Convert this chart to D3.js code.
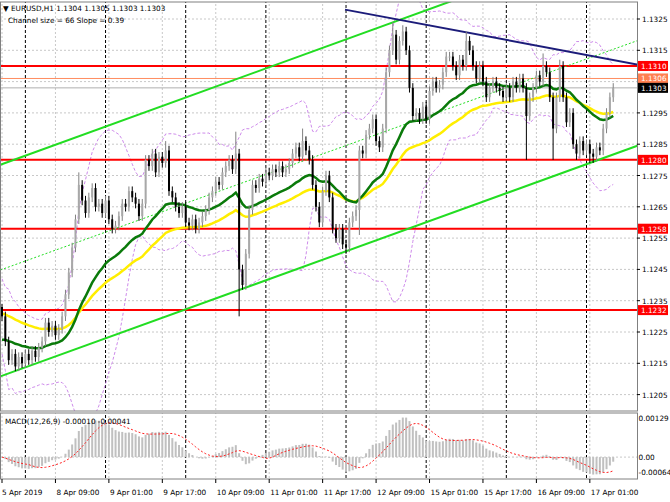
<!DOCTYPE html>
<html><head><meta charset="utf-8">
<script src="https://cdn.jsdelivr.net/npm/d3@7"></script>
<style>body{margin:0;background:#fff}text{font-family:"DejaVu Sans",sans-serif;font-size:7.3px}</style>
</head><body><svg id="chart" width="670" height="502"></svg>
<script>
// ===== DATA =====
// hourly closes, pips above 1.1200, 5 Apr 17:00 .. 17 Apr 07:00
const closes = [30,22,16,18,14,17,15,18,16,19,17,20,22,28,25,27,24,26,30,37,44,52,61,72,67,63,68,71,65,66,
  63,67,61,58,59,62,66,65,70,68,66,62,66,80,78,82,76,81,79,83,70,68,65,63,65,60,59,61,58,60,
  62,64,68,70,73,72,76,78,80,77,82,45,40,50,64,72,71,74,73,76,75,77,76,78,76,77,79,82,84,81,
  86,83,80,72,65,60,70,75,68,58,55,58,53,52,60,62,64,83,82,88,90,93,86,84,90,108,115,120,112,118,
  121,115,103,94,95,93,97,93,102,105,103,104,108,113,113,110,107,112,110,118,115,110,106,110,105,100,103,105,103,102,
  100,103,100,105,103,106,103,94,100,103,107,105,110,108,100,90,100,110,100,92,95,85,82,86,83,85,82,81,84,83,
  90,95,100,103];
const firstOpen = 33;
const highs = [{i:0,v:34},{i:23,v:76},{i:49,v:86},{i:70,v:89},{i:90,v:90},{i:117,v:124},{i:120,v:123},{i:139,v:121},{i:162,v:114},{i:167,v:112}];
const lows = [{i:71,v:30},{i:103,v:50},{i:107,v:56},{i:157,v:80},{i:165,v:80},{i:172,v:80},{i:176,v:79},{i:177,v:79}];
const priceTicks = [1.1325,1.1315,1.1295,1.1285,1.1275,1.1265,1.1255,1.1245,1.1235,1.1225,1.1215,1.1205];
const levels = [1.1310,1.1280,1.1258,1.1232];
const timeLabels = ["5 Apr 2019","8 Apr 09:00","9 Apr 01:00","9 Apr 17:00","10 Apr 09:00","11 Apr 01:00","11 Apr 17:00","12 Apr 09:00","15 Apr 01:00","15 Apr 17:00","16 Apr 09:00","17 Apr 01:00"];
const labelBars = [0,16,32,48,64,80,96,112,128,144,160,176];
const daySeparators = [7,31,55,79,103,127,151,175];
// drawn objects: [bar, pips]
const chanUpper = [[-0.6,78.4],[135.3,131]];
const chanLower = [[0,11],[190,84.4]];
const chanMid = [[0,45],[190,118]];
const navyLine = [[102.7,128],[190,110.5]];
const maStart = {green:22, yellow:31};

// ===== SCALES =====
const svg = d3.select('#chart');
const W = 637, pTop = 2, pBot = 411, mTop = 413, mBot = 479;
const x = d3.scaleLinear().domain([0,1]).range([2,5.34]);
const y = d3.scaleLinear().domain([1.1325,1.1205]).range([19,394.6]);
const p = v => 1.12 + v/10000;
const ym = d3.scaleLinear().domain([0.00129,-0.00064]).range([417,477]);

const bars = closes.map((c,i) => {
  const o = i === 0 ? firstOpen : closes[i-1];
  let h = Math.max(o,c) + 1.5, l = Math.min(o,c) - 1.5;
  highs.filter(d => d.i === i).forEach(d => h = d.v);
  lows.filter(d => d.i === i).forEach(d => l = d.v);
  return {i, o:p(o), c:p(c), h:p(h), l:p(l)};
});

// indicators
function ema(arr, n, seed){ const k = 2/(n+1); let e = seed ?? arr[0]; return arr.map(v => e = v*k + e*(1-k)); }
const cp = bars.map(b => b.c);
const green = ema(cp, 28, p(maStart.green));
const yellow = ema(cp, 50, p(maStart.yellow));
const bb = cp.map((v,i) => {
  const s = cp.slice(Math.max(0,i-19), i+1), m = d3.mean(s), sd = d3.deviation(s) || 0.0005;
  return {u: m+2*sd+0.0002, d: m-2*sd-0.0002};
});
const e12 = ema(cp,12), e26 = ema(cp,26);
const macd = e12.map((v,i) => v - e26[i]);
const signal = macd.map((v,i) => d3.mean(macd.slice(Math.max(0,i-8), i+1)));

// ===== CLIP / FRAME =====
svg.append('clipPath').attr('id','cm').append('rect').attr('x',0).attr('y',pTop).attr('width',W).attr('height',pBot-pTop);
svg.append('clipPath').attr('id','cmacd').append('rect').attr('x',0).attr('y',mTop).attr('width',W).attr('height',mBot-mTop);
const g = svg.append('g').attr('clip-path','url(#cm)');
const gm = svg.append('g').attr('clip-path','url(#cmacd)');

// grid
priceTicks.concat([1.1305]).forEach(t => g.append('line').attr('x1',0).attr('x2',W).attr('y1',y(t)).attr('y2',y(t))
  .attr('stroke','#c8c8c8').attr('stroke-dasharray','2,2'));
gm.append('line').attr('x1',0).attr('x2',W).attr('y1',ym(0)).attr('y2',ym(0)).attr('stroke','#c8c8c8').attr('stroke-dasharray','2,2');
labelBars.forEach(b => [g,gm].forEach(gg => gg.append('line').attr('x1',x(b)).attr('x2',x(b)).attr('y1',0).attr('y2',502)
  .attr('stroke','#c8c8c8').attr('stroke-dasharray','2,2')));
daySeparators.forEach(b => [g,gm].forEach(gg => gg.append('line').attr('x1',x(b)).attr('x2',x(b)).attr('y1',0).attr('y2',502)
  .attr('stroke','#000').attr('stroke-dasharray','3,2')));

// bollinger
['u','d'].forEach(k => g.append('path').datum(bb).attr('fill','none').attr('stroke','#c77de8').attr('stroke-width',0.9)
  .attr('stroke-dasharray','3,2').attr('d', d3.line().x((d,i)=>x(i)).y(d=>y(d[k]))));

// horizontal levels
g.append('line').attr('x1',0).attr('x2',W).attr('y1',y(1.1303)).attr('y2',y(1.1303)).attr('stroke','#b0b0b0');
g.append('line').attr('x1',0).attr('x2',W).attr('y1',y(1.1306)).attr('y2',y(1.1306)).attr('stroke','#ff8c60');
levels.forEach(l => g.append('line').attr('x1',0).attr('x2',W).attr('y1',y(l)).attr('y2',y(l)).attr('stroke','#ff0000').attr('stroke-width',2));

// channel + trend lines
const seg = (pts, col, w, dash) => g.append('line')
  .attr('x1',x(pts[0][0])).attr('y1',y(p(pts[0][1]))).attr('x2',x(pts[1][0])).attr('y2',y(p(pts[1][1])))
  .attr('stroke',col).attr('stroke-width',w).attr('stroke-dasharray',dash||null);
function ext(pts){ const s=(pts[1][1]-pts[0][1])/(pts[1][0]-pts[0][0]); return [[-5,pts[0][1]+s*(-5-pts[0][0])],[200,pts[0][1]+s*(200-pts[0][0])]]; }
seg(ext(chanUpper),'#22dd22',2);
seg(ext(chanLower),'#22dd22',2);
seg(ext(chanMid),'#22dd22',1,'2,2');
seg([navyLine[0],ext(navyLine)[1]],'#1c1c7a',2);

// MAs
g.append('path').datum(yellow).attr('fill','none').attr('stroke','#ffee00').attr('stroke-width',2.5).attr('d',d3.line().x((d,i)=>x(i)).y(d=>y(d)));
g.append('path').datum(green).attr('fill','none').attr('stroke','#0a7a0a').attr('stroke-width',2.5).attr('d',d3.line().x((d,i)=>x(i)).y(d=>y(d)));

// candles
const cg = g.append('g');
cg.selectAll('line.w').data(bars).join('line').attr('x1',d=>x(d.i)).attr('x2',d=>x(d.i)).attr('y1',d=>y(d.h)).attr('y2',d=>y(d.l))
  .attr('stroke',d=>d.c>=d.o?'#808080':'#000');
cg.selectAll('rect').data(bars).join('rect').attr('x',d=>x(d.i)-1).attr('width',2)
  .attr('y',d=>y(Math.max(d.o,d.c))).attr('height',d=>Math.max(1,Math.abs(y(d.o)-y(d.c))))
  .attr('fill',d=>d.c>=d.o?'#a8a8a8':'#000');

// MACD
gm.selectAll('rect').data(macd).join('rect').attr('x',(d,i)=>x(i)-1).attr('width',2)
  .attr('y',d=>Math.min(ym(d),ym(0))).attr('height',d=>Math.abs(ym(d)-ym(0))).attr('fill','#c0c0c0');
gm.append('path').datum(signal).attr('fill','none').attr('stroke','#ff2020').attr('stroke-dasharray','2,2')
  .attr('d',d3.line().x((d,i)=>x(i)).y(d=>ym(d)));

// frames
svg.append('rect').attr('x',0.5).attr('y',pTop).attr('width',W).attr('height',pBot-pTop).attr('fill','none').attr('stroke','#808080');
svg.append('rect').attr('x',0.5).attr('y',mTop).attr('width',W).attr('height',mBot-mTop).attr('fill','none').attr('stroke','#808080');

// price axis
priceTicks.forEach(t => {
  svg.append('line').attr('x1',W).attr('x2',W+3).attr('y1',y(t)).attr('y2',y(t)).attr('stroke','#000');
  svg.append('text').attr('x',W+5).attr('y',y(t)+3).text(t.toFixed(4));
});
const tag = (v,bg) => {
  svg.append('rect').attr('x',W+1).attr('y',y(v)-5).attr('width',30).attr('height',10).attr('fill',bg);
  svg.append('text').attr('x',W+4).attr('y',y(v)+3).attr('fill','#fff').text(v.toFixed(4));
};
levels.forEach(l => tag(l,'#ff0000'));
tag(1.1306,'#ff7f50');
tag(1.1303,'#000');

// macd axis
[['0.00129',421],['0.00',ym(0)+3],['-0.00064',475]].forEach(([t,yy]) =>
  svg.append('text').attr('x',W+1.5).attr('y',yy).attr('font-size','6.5px').text(t));

// time axis
labelBars.forEach((b,k) => {
  svg.append('line').attr('x1',x(b)).attr('x2',x(b)).attr('y1',mBot).attr('y2',mBot+4).attr('stroke','#000');
  svg.append('text').attr('x',x(b)+(k===0?0:1)).attr('y',495).text(timeLabels[k]);
});

// header
svg.append('text').attr('x',3).attr('y',11).text('▼ EURUSD,H1  1.1304 1.1305 1.1303 1.1303');
svg.append('text').attr('x',8).attr('y',23).text('Channel size = 66 Slope = 0.39');
svg.append('text').attr('x',5).attr('y',424).text('MACD(12,26,9) -0.00010 -0.00041');
</script></body></html>
